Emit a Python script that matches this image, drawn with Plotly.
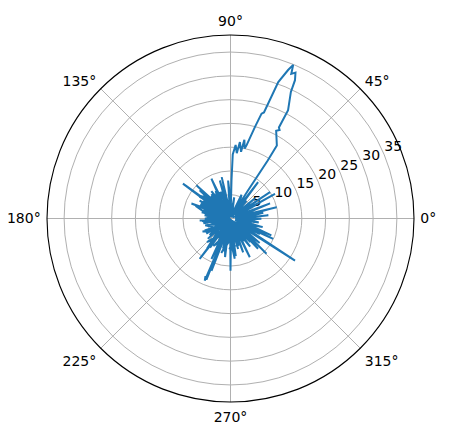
import plotly.graph_objects as go

# Trace values (degrees, radius)
theta_deg = [
    200, 183.7, 190, 173, 165, 159, 150, 143.8, 140, 137.6, 130, 135.8, 125, 115.6,
    110, 105.7, 100, 102, 95, 93.6, 60, 52.8, 45, 39.5, 35, 33.8, 30, 29, 25, 20.9,
    15, 13.8, 5, 359.6, 350, 337.5, 340, 334.5, 330, 326.9, 320, 315.6, 318, 312.3,
    305, 296.5, 295, 290.5, 288, 284, 275, 270, 265, 250, 252, 247.5, 246.5, 248.5,
    250, 244.8, 240, 232.7, 230, 247.7, 225, 222, 210, 180,
    175, 168, 155, 150, 120, 125, 85, 80, 70, 65, 20, 10, 0, 5, 355, 345, 325, 320,
    300, 305, 280, 278, 262, 258, 238, 235, 215, 212, 195, 190,
    88, 88.5, 88, 86, 84.5, 83, 81, 80, 78.5, 77.6, 75, 73.5, 72.5, 70.7, 68.8, 67.8,
    67.2, 66, 65, 64.5, 62, 62, 61, 62.5, 57.6, 57.3, 58, 60,
    48, 42, 28, 24, 12, 8, 352, 348, 332, 328, 310, 300, 286, 282, 268, 266, 256, 254,
    242, 236, 220, 205, 198, 186, 178, 170, 162, 146, 132, 118, 108, 96,
    140, 128, 145, 122, 152, 112, 160, 200, 185, 215, 195, 228, 205, 245, 225, 260,
    238, 272, 255, 292, 268, 300, 282, 318, 300, 338, 315, 355, 330, 8, 345, 22,
    30, 148, 200, 138, 250, 128, 300, 155, 20, 112, 230, 142, 280, 165, 60, 132,
    210, 118, 260, 152, 320, 172, 240, 205, 290, 218, 200, 262, 250, 276, 180, 232,
]
r_vals = [
    1.0, 6.5, 1.2, 5.5, 0.8, 8.8, 1.5, 12.4, 2.0, 8.8, 1.0, 10.0, 1.8, 9.3,
    1.2, 8.3, 2.0, 8.9, 1.5, 8.0, 0.8, 9.6, 1.2, 6.6, 2.0, 10.0, 1.5, 10.7, 1.0, 8.9,
    2.2, 10.0, 1.4, 6.5, 1.8, 9.3, 1.0, 9.95, 2.0, 16.2, 1.5, 10.6, 2.5, 8.6,
    1.2, 9.1, 2.0, 7.6, 1.0, 6.6, 1.5, 11.0, 1.0, 11.7, 2.0, 14.15, 13.2, 13.8,
    2.5, 9.4, 1.3, 10.7, 2.0, 6.9, 1.0, 6.4, 1.5, 5.4,
    1.0, 6.2, 1.5, 7.5, 1.0, 7.0, 0.8, 4.5, 1.0, 5.5, 1.2, 7.0, 2.0, 8.0, 1.0, 7.0, 1.5, 8.0,
    1.0, 7.2, 1.3, 8.0, 1.0, 7.0, 1.2, 7.5, 1.0, 6.0, 1.5, 5.8,
    0.5, 8.0, 13.5, 15.5, 13.8, 16.2, 14.2, 16.8, 15.0, 15.8, 20.0, 23.0, 23.4, 30.4, 33.5, 34.9,
    33.0, 33.6, 32.1, 29.5, 25.8, 21.7, 21.3, 20.8, 18.2, 14.5, 7.0, 1.0,
    5.0, 1.5, 6.0, 1.0, 5.5, 2.0, 6.0, 1.2, 7.0, 1.5, 6.5, 2.0, 6.0, 1.0, 5.0, 2.2, 6.5, 1.3,
    5.5, 1.0, 5.0, 1.5, 4.8, 1.2, 5.0, 1.0, 6.0, 1.5, 5.0, 1.2, 6.0, 1.0,
    7.5, 2.0, 8.0, 2.5, 7.0, 2.0, 7.8, 2.5, 6.0, 2.0, 5.5, 3.0, 6.5, 3.0, 7.0, 3.0,
    6.8, 3.5, 7.5, 3.0, 6.5, 3.2, 6.0, 3.0, 5.5, 3.5, 5.0, 3.0, 5.5, 3.5, 4.5, 1.0,
    1.5, 6.8, 1.2, 7.2, 1.0, 6.5, 1.5, 7.0, 0.8, 6.0, 1.0, 7.8, 1.2, 5.5, 0.6, 6.2,
    2.0, 6.6, 0.8, 6.4, 1.5, 5.2, 1.0, 6.0, 0.8, 5.6, 1.2, 8.2, 0.6, 8.5, 1.0, 8.0,
]

angle_ticks = [0, 45, 90, 135, 180, 225, 270, 315]
angle_labels = ["0°", "45°", "90°", "135°", "180°", "225°", "270°", "315°"]
radial_ticks = [5, 10, 15, 20, 25, 30, 35]
radial_labels = ["5", "10", "15", "20", "25", "30", "35"]
label_angle = 22.5
r_max = 38.6

fig = go.Figure()
# radial tick labels (drawn under the data, as in the reference)
fig.add_trace(go.Scatterpolar(
    theta=[label_angle] * len(radial_ticks), r=radial_ticks,
    mode="text", text=radial_labels, textposition="top right",
    textfont=dict(family="DejaVu Sans", size=14, color="black"),
    showlegend=False, hoverinfo="skip",
))
fig.add_trace(go.Scatterpolar(
    theta=theta_deg, r=r_vals, mode="lines",
    line=dict(color="#1f77b4", width=2),
    showlegend=False,
))

fig.update_layout(
    width=451, height=440,
    margin=dict(l=39, r=45, t=27, b=46),
    paper_bgcolor="white",
    font=dict(family="DejaVu Sans", size=14, color="black"),
    polar=dict(
        bgcolor="white",
        domain=dict(x=[0, 1], y=[0, 1]),
        angularaxis=dict(
            rotation=0, direction="counterclockwise",
            tickmode="array", tickvals=angle_ticks, ticktext=angle_labels,
            showline=True, linecolor="black", linewidth=1.1,
            showgrid=True, gridcolor="#b0b0b0", gridwidth=1.1,
            ticks="outside", ticklen=3, tickcolor="rgba(0,0,0,0)",
            layer="below traces",
            tickfont=dict(family="DejaVu Sans", size=14, color="black"),
        ),
        radialaxis=dict(
            range=[0, r_max], angle=label_angle,
            tickmode="array", tickvals=radial_ticks,
            showline=False, ticks="", showticklabels=False,
            showgrid=True, gridcolor="#b0b0b0", gridwidth=1.1,
            layer="below traces",
        ),
    ),
)

fig.write_html("out.html")
